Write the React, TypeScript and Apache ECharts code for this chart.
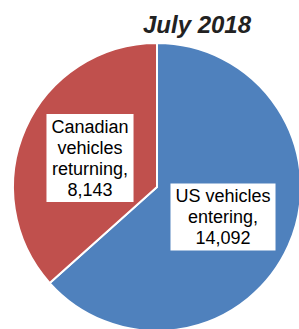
import React, { useEffect, useRef } from "react";
import * as echarts from "echarts";

const title = "July 2018";
const categories = ["US vehicles entering", "Canadian vehicles returning"];
const values = [14092, 8143];
const labelLines = [
  ["US vehicles", "entering,", "14,092"],
  ["Canadian", "vehicles", "returning,", "8,143"],
];
const colors = ["#4F81BD", "#C0504D"];

export default function App() {
  const ref = useRef<HTMLDivElement>(null);
  useEffect(() => {
    if (!ref.current) return;
    const chart = echarts.init(ref.current, null, { renderer: "svg" });
    const labelPos = [
      { x: 223, y: 217 },
      { x: 90, y: 158 },
    ];
    chart.setOption({
      animation: false,
      backgroundColor: "#fff",
      title: {
        text: title,
        left: 192,
        top: 7,
        textAlign: "center",
        textStyle: {
          fontFamily: "Liberation Sans",
          fontSize: 24,
          fontWeight: "bold",
          fontStyle: "italic",
          color: "#222",
        },
      },
      series: [
        {
          type: "pie",
          center: [157, 187],
          radius: 144,
          startAngle: 90,
          clockwise: true,
          itemStyle: { borderColor: "#fff", borderWidth: 2 },
          label: {
            show: true,
            position: "inside",
            formatter: (p: any) => labelLines[p.dataIndex].join("\n"),
            backgroundColor: "#fff",
            padding: [2, 5],
            color: "#000",
            fontFamily: "Liberation Sans",
            fontSize: 18,
            lineHeight: 21,
            align: "center",
          },
          labelLayout: (p: any) => ({
            x: labelPos[p.dataIndex].x,
            y: labelPos[p.dataIndex].y,
            align: "center",
            verticalAlign: "middle",
          }),
          emphasis: { disabled: true },
          data: categories.map((c, i) => ({
            name: c,
            value: values[i],
            itemStyle: { color: colors[i] },
          })),
        },
      ],
    });
    return () => chart.dispose();
  }, []);
  return (
    <div
      ref={ref}
      style={{ position: "fixed", left: 0, top: 0, width: 299, height: 329 }}
    />
  );
}
